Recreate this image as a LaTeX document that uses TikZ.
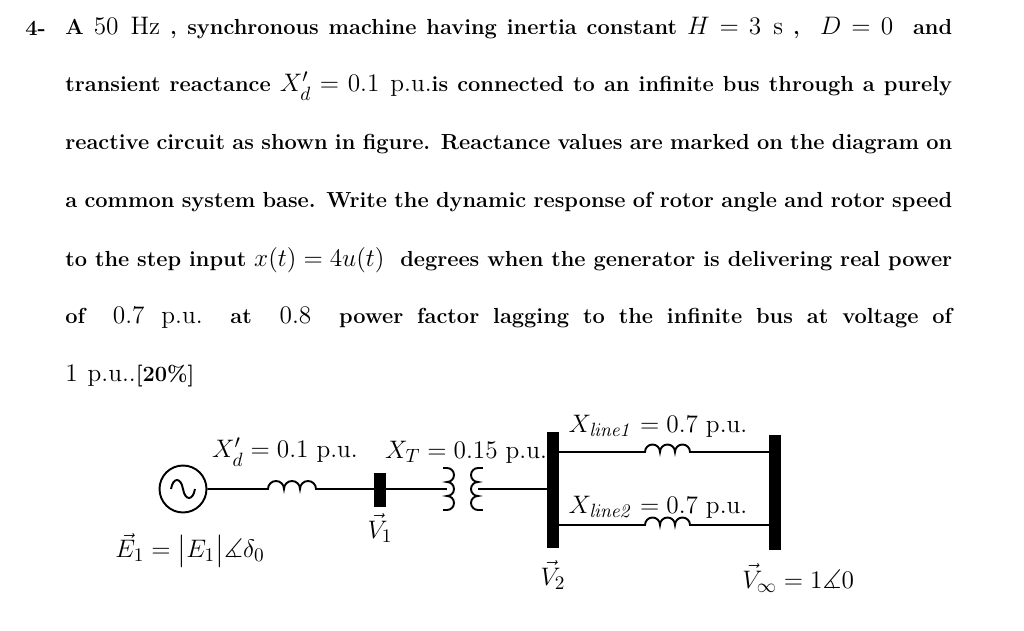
\documentclass[tikz,border=0pt]{standalone}
\usepackage{amsmath,amssymb}
\begin{document}
\begin{tikzpicture}[x=0.02cm,y=0.02cm,
  txt/.style={anchor=west,inner sep=0pt,font=\fontsize{12.4}{15}\selectfont\bfseries},
  lbl/.style={inner sep=0pt,font=\fontsize{15}{18}\selectfont},
  wire/.style={line width=1.1pt},
  bus/.style={line width=7pt}]
\useasboundingbox (0,-631) rectangle (1024,0);
\newcommand{\pu}{\mathrm{p.u.}}
\newcommand{\mm}[1]{{\fontsize{15}{18}\selectfont$#1$}}
\node[txt] (n4) at (25,-28) {4-};
\node[txt] (l1) at (65,-28) {\makebox[17.74cm][s]{A \mm{50~\mathrm{Hz}} , synchronous machine having inertia constant \mm{H=3~\mathrm{s}} , \ \mm{D=0} \ and}};
\node[txt] (l2) at (65,-86) {\makebox[17.74cm][s]{transient reactance \mm{X'_{d}=0.1~\pu}is connected to an infinite bus through a purely}};
\node[txt] (l3) at (65,-144) {\makebox[17.74cm][s]{reactive circuit as shown in figure. Reactance values are marked on the diagram on}};
\node[txt] (l4) at (65,-202) {\makebox[17.74cm][s]{a common system base. Write the dynamic response of rotor angle and rotor speed}};
\node[txt] (l5) at (65,-260) {\makebox[17.74cm][s]{to the step input \mm{x(t)=4u(t)} \ degrees when the generator is delivering real power}};
\node[txt] (l6) at (65,-318) {\makebox[17.74cm][s]{of \ \mm{0.7~\pu} \ at \ \mm{0.8} \ power factor lagging to the infinite bus at voltage of}};
\node[txt] (l7) at (65,-376) {\mm{1~\pu.}[20\%]};
% generator
\node[draw,circle,line width=1.1pt,minimum size=0.94cm,inner sep=0pt] (g) at (183,-489) {};
\draw[line width=1.1pt] (171,-489) .. controls (173,-477) and (181,-477) .. (183,-489) .. controls (185,-501) and (193,-501) .. (195,-489);
\coordinate (i1a) at (268,-489);
\coordinate (b1) at (380,-489);
\draw[wire] (g.east) -- (i1a) arc (180:0:0.16cm) arc (180:0:0.16cm) arc (180:0:0.16cm) -- (b1);
\draw[bus] (380,-473) -- (380,-507);
% transformer
\coordinate (t1) at (447,-489);
\draw[wire] (b1) -- (t1);
\draw[wire] (447,-468) arc (90:-90:0.14cm) arc (90:-90:0.14cm) arc (90:-90:0.14cm);
\draw[wire] (447,-468) -- (443,-468);
\draw[wire] (447,-510) -- (443,-510);
\draw[wire] (478,-468) arc (90:270:0.14cm) arc (90:270:0.14cm) arc (90:270:0.14cm);
\draw[wire] (478,-468) -- (483,-468);
\draw[wire] (478,-510) -- (483,-510);
\coordinate (t2) at (478,-489);
\coordinate (b2) at (553,-489);
\draw[wire] (t2) -- (b2);
\draw[bus] (553,-432) -- (553,-548);
\draw[bus] (775,-435) -- (775,-550);
% lines
\draw[wire] (553,-452) -- (645,-452) arc (180:0:0.15cm) arc (180:0:0.15cm) arc (180:0:0.15cm) -- (775,-452);
\draw[wire] (553,-525) -- (645,-525) arc (180:0:0.15cm) arc (180:0:0.15cm) arc (180:0:0.15cm) -- (775,-525);
% labels
\node[lbl] (xd) at (285,-452) {$X'_{d}=0.1~\pu$};
\node[lbl] (xt) at (466,-452) {$X_{T}=0.15~\pu$};
\node[lbl] (xl1) at (658,-426) {$X_{\mathit{line1}}=0.7~\pu$};
\node[lbl] (xl2) at (658,-507) {$X_{\mathit{line2}}=0.7~\pu$};
\node[lbl] (e1) at (190,-550) {$\vec{E}_{1}=\bigl|E_{1}\bigr|\measuredangle\delta_{0}$};
\node[lbl] (v1) at (380,-528) {$\vec{V}_{1}$};
\node[lbl] (v2) at (553,-575) {$\vec{V}_{2}$};
\node[lbl,anchor=west] (vi) at (742,-578) {$\vec{V}_{\infty}=1\measuredangle0$};
\end{tikzpicture}
\end{document}
